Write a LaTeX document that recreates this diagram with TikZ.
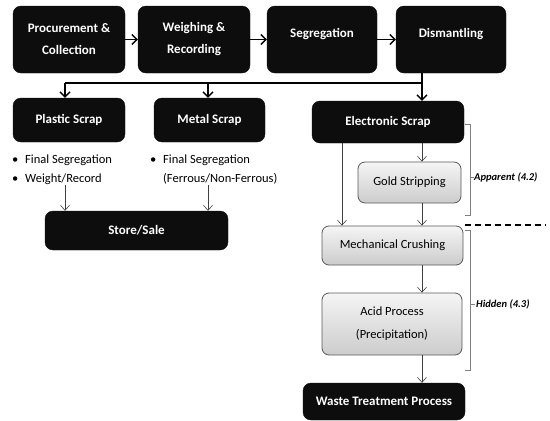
\documentclass[tikz,border=0pt]{standalone}
\usepackage{fontspec}
\setmainfont{Carlito}
\usetikzlibrary{arrows.meta,positioning}
\definecolor{boxblack}{HTML}{0D0D0D}
\definecolor{boxedge}{HTML}{595959}
\definecolor{bracegray}{HTML}{808080}
\tikzset{
  blackbox/.style={rectangle, rounded corners=8pt, fill=boxblack, draw=boxblack,
    text=white, font=\fontsize{13}{22}\selectfont\bfseries, align=center, inner sep=0pt},
  graybox/.style={rectangle, rounded corners=7pt, top color=gray!8, bottom color=gray!40,
    draw=boxedge, line width=0.8pt, font=\fontsize{12.5}{23}\selectfont, align=center, inner sep=0pt},
  flow/.style={line width=1.3pt, ->, >={Straight Barb[length=5pt,width=10pt]}},
  thinflow/.style={line width=0.6pt, draw=black!75, ->, >={Straight Barb[length=5pt,width=9pt]}},
  bullets/.style={align=left, inner sep=0pt, font=\fontsize{12.5}{19}\selectfont},
  brace/.style={draw=bracegray, line width=0.8pt},
  phase/.style={font=\fontsize{10.5}{12}\selectfont\bfseries\itshape, inner sep=0pt}
}
\begin{document}
\begin{tikzpicture}[x=1pt,y=-1pt]
\useasboundingbox (0,0) rectangle (550,421);

% top row
\node[blackbox, minimum width=112pt, minimum height=67pt] (proc) at (69,39.5) {Procurement \&\\Collection};
\node[blackbox, minimum width=112pt, minimum height=67pt] (weigh) at (194,39.5) {Weighing \&\\Recording};
\node[blackbox, minimum width=110pt, minimum height=67pt, text depth=13pt] (segr) at (322,39.5) {Segregation};
\node[blackbox, minimum width=110pt, minimum height=67pt, text depth=13pt] (dism) at (451,39.5) {Dismantling};

\draw[flow] (proc) -- (weigh);
\draw[flow] (weigh) -- (segr);
\draw[flow] (segr) -- (dism);

% scrap types
\node[blackbox, minimum width=112pt, minimum height=44pt] (plastic) at (69,120) {Plastic Scrap};
\node[blackbox, minimum width=111pt, minimum height=44pt] (metal) at (209.5,120) {Metal Scrap};
\node[blackbox, minimum width=152pt, minimum height=42pt] (elec) at (388,122) {Electronic Scrap};

\coordinate (bus) at (422,83);
\coordinate (pbus) at (65,83);
\coordinate (mbus) at (208,83);
\draw[line width=1.3pt] (pbus) -- (bus);
\draw[flow] (pbus) -- (plastic.north -| pbus);
\draw[flow] (mbus) -- (metal.north -| mbus);
\draw[flow] (dism.south -| bus) -- (elec.north -| bus);

% plastic and metal lists
\node[bullets, anchor=north west] (plist) at (12,155)
  {\makebox[13pt][l]{\textbullet}Final Segregation\\\makebox[13pt][l]{\textbullet}Weight/Record};
\node[bullets, anchor=north west] (mlist) at (150,155)
  {\makebox[13pt][l]{\textbullet}Final Segregation\\\hspace*{13pt}(Ferrous/Non-Ferrous)};

\node[blackbox, minimum width=183pt, minimum height=39pt] (store) at (136.5,230.5) {Store/Sale};
\draw[thinflow] (plist.south -| pbus) -- (store.north -| pbus);
\draw[thinflow] (mlist.south -| mbus) -- (store.north -| mbus);

% electronic scrap
\node[graybox, minimum width=103pt, minimum height=41pt] (gold) at (409.5,182.5) {Gold Stripping};
\node[graybox, minimum width=141pt, minimum height=39pt] (mech) at (392.5,245.5) {Mechanical Crushing};
\node[graybox, minimum width=140pt, minimum height=62pt] (acid) at (392,324) {Acid Process\\(Precipitation)};
\node[blackbox, minimum width=162pt, minimum height=37pt] (waste) at (384,401.5) {Waste Treatment Process};

\coordinate (byp) at (342,0);
\draw[thinflow] (elec.south -| bus) -- (gold.north -| bus);
\draw[thinflow] (gold.south -| bus) -- (mech.north -| bus);
\draw[thinflow] (elec.south -| byp) -- (mech.north -| byp);
\draw[thinflow] (mech.south -| bus) -- (acid.north -| bus);
\draw[thinflow] (acid.south -| bus) -- (waste.north -| bus);

% apparent / hidden
\draw[brace] (465,124) -- (470,124) -- (470,215) -- (465,215);
\draw[brace] (470,177) -- (474,177);
\node[phase, anchor=west] (appl) at (474,177.5) {Apparent (4.2)};
\draw[line width=1.1pt, dash pattern=on 6pt off 4pt] (465,225) -- (546,225);
\draw[brace] (465,230) -- (470,230) -- (470,370) -- (465,370);
\draw[brace] (470,304) -- (475,304);
\node[phase, anchor=west] (hidl) at (476,304.5) {Hidden (4.3)};
\end{tikzpicture}
\end{document}
